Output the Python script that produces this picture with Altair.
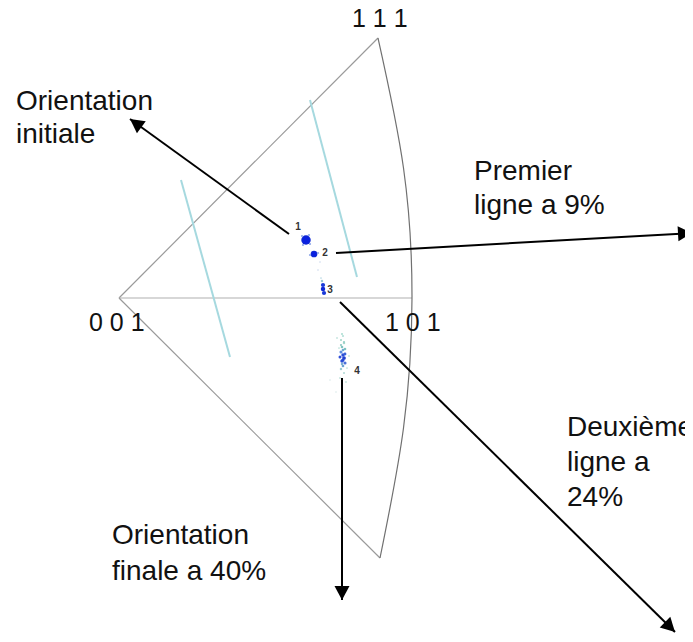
import altair as alt
import pandas as pd
import numpy as np

# Coordinates: pixel-scaled stereographic units, 001 pole at the origin, y upward
# Triangle edges from the 001 pole
edge_x2 = [259, 293, 261]
edge_y2 = [260, 0, -260]
edge_color = ["#9a9a9a", "#b0b0b0", "#9a9a9a"]

# outer great-circle arc (111 -> 101 -> 1-11)
arc_x = [259, 284.5, 293, 284.5, 261]
arc_y = [260, 130, 0, -130, -260]

# pole labels
pole_text = ["0 0 1", "1 0 1", "1 1 1"]
pole_x = [-30, 266, 233]
pole_y = [-33, -33, 271]

# cyan trace lines
cyan_x1 = [62, 191]
cyan_y1 = [118, 198]
cyan_x2 = [111, 238]
cyan_y2 = [-59, 21]

# measured orientation spots
spot_x = [187, 183, 191, 184, 190, 187,
          195, 191, 199, 195,
          199, 201,
          204, 204, 205, 203, 202,
          224, 222, 225, 223, 226, 222, 224, 225, 223, 226, 224, 222, 225, 221, 227, 218, 230, 211, 217,
          223, 225, 222, 224, 226, 221, 224, 223, 220, 228]
spot_y = [58, 62, 54, 53, 63, 58,
          44, 43, 45, 44,
          28, 36,
          13, 9, 5, 17, 20,
          -38, -42, -45, -49, -51, -54, -57, -60, -63, -65, -68, -71, -75, -80, -84, -40, -58, -82, -94,
          -36, -44, -47, -52, -56, -59, -62, -66, -50, -70]
spot_size = [90, 5, 5, 5, 5, 50,
             45, 5, 5, 20,
             2, 2,
             18, 20, 18, 6, 3,
             5, 5, 6, 7, 7, 10, 12, 14, 12, 10, 7, 6, 5, 4, 4, 4, 4, 2, 2,
             4, 5, 5, 7, 8, 9, 10, 6, 3, 3]
spot_color = ["#1029d6", "#8fa8e8", "#8fa8e8", "#8fa8e8", "#8fa8e8", "#0a20e0",
              "#1029d6", "#8fa8e8", "#8fa8e8", "#0a20e0",
              "#c0d0e8", "#c0d0e8",
              "#1838d8", "#1029d6", "#1838d8", "#9cc8d8", "#b8d8e4",
              "#b5e0d8", "#a8d8cc", "#a8d8cc", "#7fc4c0", "#7fc4c0", "#5b8ee0", "#2a4fd8", "#2040d0",
              "#2a4fd8", "#4a70d8", "#6aa0d0", "#9ccbd0", "#b5dcd8", "#c8e6e0", "#c8e6e0",
              "#c8e6e0", "#c8e6e0", "#d0e4e4", "#d0e4e4",
              "#a8dcd0", "#98d0c8", "#8cc8c4", "#6fa8d4", "#3a60d8", "#3050d8", "#2848d4", "#7fb0d0",
              "#b8e0d8", "#b8e0d8"]

# spot labels
num_text = ["1", "2", "3", "4"]
num_x = [179, 206, 211, 238]
num_y = [71, 45, 8, -73]

# arrows (start -> tip)
arr_x1 = [170, 217, 221, 223]
arr_y1 = [64, 45, -4, -80]
arr_x2 = [11, 573, 556, 223]
arr_y2 = [179, 65, -334, -302]

# annotations
note_text = ["Orientation", "initiale", "Premier", "ligne a 9%",
             "Deuxième", "ligne a", "24%", "Orientation", "finale a 40%"]
note_x = [-103, -103, 355, 355, 448, 448, 448, -7, -7]
note_y = [188, 155, 118, 84, -138, -173, -208, -246, -282]

W, H = 677, 626
xs = alt.Scale(domain=[-111, 566], zero=False, nice=False)
ys = alt.Scale(domain=[-336, 290], zero=False, nice=False)
X = lambda f: alt.X(f, type="quantitative", scale=xs, axis=None)
Y = lambda f: alt.Y(f, type="quantitative", scale=ys, axis=None)

edges = pd.DataFrame({"x": [0, 0, 0], "y": [0, 0, 0], "x2": edge_x2, "y2": edge_y2, "c": edge_color})
arc = pd.DataFrame({"x": arc_x, "y": arc_y, "o": list(range(len(arc_x)))})
poles = pd.DataFrame({"x": pole_x, "y": pole_y, "t": pole_text})
cyan = pd.DataFrame({"x": cyan_x1, "y": cyan_y1, "x2": cyan_x2, "y2": cyan_y2})
spots = pd.DataFrame({"x": spot_x, "y": spot_y, "s": spot_size, "c": spot_color})
nums = pd.DataFrame({"x": num_x, "y": num_y, "t": num_text})
arrows = pd.DataFrame({"x": arr_x1, "y": arr_y1, "x2": arr_x2, "y2": arr_y2})
arrows["ang"] = (np.degrees(np.arctan2(arrows["x2"] - arrows["x"], arrows["y2"] - arrows["y"])) + 360) % 360
notes = pd.DataFrame({"x": note_x, "y": note_y, "t": note_text})

edge_layer = alt.Chart(edges).mark_rule(strokeWidth=1.2).encode(
    x=X("x"), y=Y("y"), x2="x2", y2="y2", color=alt.Color("c:N", scale=None))
arc_layer = alt.Chart(arc).mark_line(color="#707070", strokeWidth=1.2, interpolate="natural").encode(
    x=X("x"), y=Y("y"), order="o:Q")
cyan_layer = alt.Chart(cyan).mark_rule(color="#a6d9df", strokeWidth=2).encode(
    x=X("x"), y=Y("y"), x2="x2", y2="y2")
pole_layer = alt.Chart(poles).mark_text(align="left", baseline="alphabetic", font="Liberation Sans",
                                        fontSize=25, color="#111111").encode(x=X("x"), y=Y("y"), text="t:N")
spot_layer = alt.Chart(spots).mark_circle(opacity=1).encode(
    x=X("x"), y=Y("y"), size=alt.Size("s:Q", scale=None), color=alt.Color("c:N", scale=None))
num_layer = alt.Chart(nums).mark_text(font="Liberation Sans", fontSize=10, fontWeight="bold",
                                      color="#333333").encode(x=X("x"), y=Y("y"), text="t:N")
arrow_lines = alt.Chart(arrows).mark_rule(color="black", strokeWidth=2).encode(
    x=X("x"), y=Y("y"), x2="x2", y2="y2")
arrow_heads = alt.Chart(arrows).mark_point(shape="M0,0L0.75,1.4L-0.75,1.4Z", filled=True, size=400,
                                           color="black", opacity=1).encode(
    x=X("x2"), y=Y("y2"), angle=alt.Angle("ang:Q", scale=None))
note_layer = alt.Chart(notes).mark_text(align="left", baseline="alphabetic", font="Liberation Sans",
                                        fontSize=28, color="#111111").encode(x=X("x"), y=Y("y"), text="t:N")

chart = alt.layer(edge_layer, arc_layer, cyan_layer, spot_layer, num_layer, pole_layer,
                  arrow_lines, arrow_heads, note_layer).properties(
    width=W, height=H, autosize=alt.AutoSizeParams(type="none"), padding=0,
    background="white").configure_view(stroke=None)

chart.save("out.html", embed_options={"renderer": "svg", "actions": False})
